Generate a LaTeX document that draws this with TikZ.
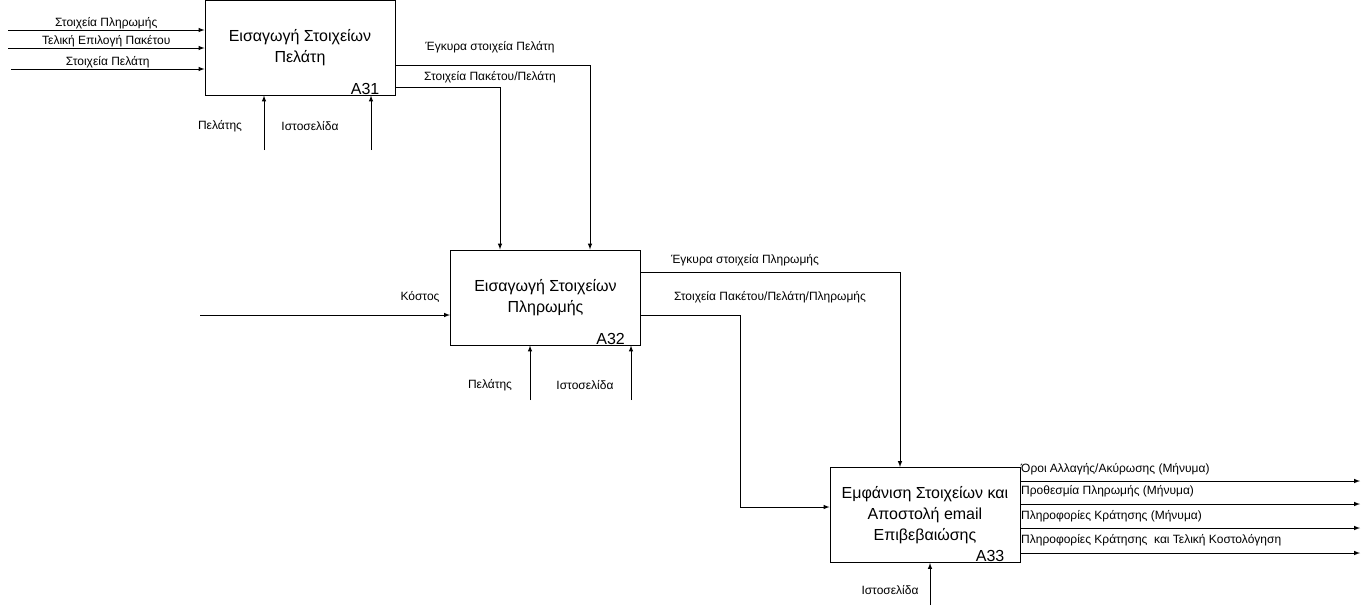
\documentclass[tikz,border=0pt]{standalone}
\usepackage{fontspec}
\setmainfont{Liberation Sans}
\usepackage{tikz}
\usetikzlibrary{positioning}
\tikzstyle{func}=[draw,line width=1pt,minimum width=190pt,minimum height=95pt,inner sep=0pt,align=center,font=\fontsize{16}{21}\selectfont]

\begin{document}
\begin{tikzpicture}[x=1pt,y=-1pt]

\tikzstyle{arrow}=[->,>=latex,line width=1pt]
\tikzstyle{lbl}=[font=\fontsize{12}{14}\selectfont,inner sep=1pt]
\tikzstyle{code}=[font=\fontsize{16}{18}\selectfont,anchor=south east,inner xsep=16pt,inner ysep=1pt]

\useasboundingbox (0,0) rectangle (1370,614);

\node (A31) [func] at (300,47.5)   {Εισαγωγή Στοιχείων\\Πελάτη};
\node (A32) [func] at (545.5,297.5) {Εισαγωγή Στοιχείων\\Πληρωμής};
\node (A33) [func] at (925,515)    {Εμφάνιση Στοιχείων και\\Αποστολή email\\Επιβεβαιώσης};

\node (A31c) [code] at (A31.south east) {A31};
\node (A32c) [code] at (A32.south east) {A32};
\node (A33c) [code] at (A33.south east) {A33};

% inputs of A31
\coordinate (payIn)  at (8,30);
\coordinate (packIn) at (8,48);
\coordinate (custIn) at (11,69);
\draw [arrow] (payIn)  -- node[lbl,above] {Στοιχεία Πληρωμής} (payIn -| A31.west);
\draw [arrow] (packIn) -- node[lbl,above] {Τελική Επιλογή Πακέτου} (packIn -| A31.west);
\draw [arrow] (custIn) -- node[lbl,above] {Στοιχεία Πελάτη} (custIn -| A31.west);

% mechanisms of A31
\coordinate (custA31) at (264,150);
\coordinate (webA31)  at (371,150);
\draw [arrow] (custA31) -- (custA31 |- A31.south);
\draw [arrow] (webA31)  -- (webA31 |- A31.south);
\node (custA31l) [lbl] at (220,126) {Πελάτης};
\node (webA31l)  [lbl] at (310,126) {Ιστοσελίδα};

% A31 -> A32
\draw [arrow] (A31.east |- 0,65) -| ([xshift=44.5pt]A32.north);
\draw [arrow] (A31.east |- 0,87) -| ([xshift=-45.5pt]A32.north);
\node (validCust) [lbl] at (490,47) {Έγκυρα στοιχεία Πελάτη};
\node (packCust)  [lbl] at (490,77) {Στοιχεία Πακέτου/Πελάτη};

% input of A32
\coordinate (costIn) at (200,315);
\draw [arrow] (costIn) -- (costIn -| A32.west);
\node (costl) [lbl] at (420,297) {Κόστος};

% mechanisms of A32
\coordinate (custA32) at (530,400);
\coordinate (webA32)  at (631,400);
\draw [arrow] (custA32) -- (custA32 |- A32.south);
\draw [arrow] (webA32)  -- (webA32 |- A32.south);
\node (custA32l) [lbl] at (490,385) {Πελάτης};
\node (webA32l)  [lbl] at (585,385) {Ιστοσελίδα};

% A32 -> A33
\draw [arrow] (A32.east |- 0,272) -| ([xshift=-25pt]A33.north);
\draw [arrow] (A32.east |- 0,315) -- (740,315) |- ([yshift=8pt]A33.west);
\node (validPay) [lbl] at (745,260) {Έγκυρα στοιχεία Πληρωμής};
\node (packPay)  [lbl] at (770,297) {Στοιχεία Πακέτου/Πελάτη/Πληρωμής};

% mechanism of A33
\coordinate (webA33) at (930,605);
\draw [arrow] (webA33) -- (webA33 |- A33.south);
\node (webA33l) [lbl] at (890,590) {Ιστοσελίδα};

% outputs of A33
\coordinate (out1) at (1360,481);
\coordinate (out2) at (1360,504);
\coordinate (out3) at (1360,528);
\coordinate (out4) at (1360,553);
\draw [arrow] (out1 -| A33.east) -- (out1);
\draw [arrow] (out2 -| A33.east) -- (out2);
\draw [arrow] (out3 -| A33.east) -- (out3);
\draw [arrow] (out4 -| A33.east) -- (out4);
\node (out1l) [lbl,anchor=west] at (1020,469) {Όροι Αλλαγής/Ακύρωσης (Μήνυμα)};
\node (out2l) [lbl,anchor=west] at (1020,491) {Προθεσμία Πληρωμής (Μήνυμα)};
\node (out3l) [lbl,anchor=west] at (1020,516) {Πληροφορίες Κράτησης (Μήνυμα)};
\node (out4l) [lbl,anchor=west] at (1020,540) {Πληροφορίες Κράτησης\ \ και Τελική Κοστολόγηση};

\end{tikzpicture}
\end{document}
